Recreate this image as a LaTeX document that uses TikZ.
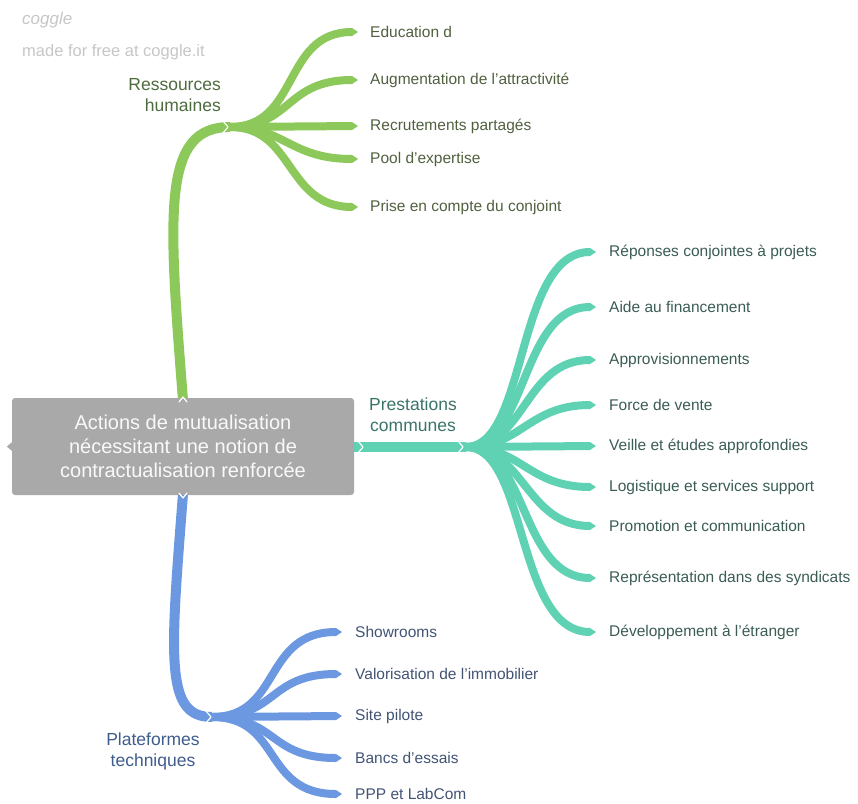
\documentclass[tikz,border=0pt]{standalone}
\usepackage{fontspec}
\setmainfont{Liberation Sans}
\usetikzlibrary{arrows.meta}
\definecolor{hrgreen}{HTML}{8CC85A}
\definecolor{svteal}{HTML}{5FD2B4}
\definecolor{ptblue}{HTML}{6B98E0}
\definecolor{rootgrey}{HTML}{A9A9A9}
\definecolor{greentext}{HTML}{50603F}
\definecolor{tealtext}{HTML}{3A5C55}
\definecolor{bluetext}{HTML}{425474}
\definecolor{greenlabel}{HTML}{4E6B3E}
\definecolor{teallabel}{HTML}{3A7468}
\definecolor{bluelabel}{HTML}{3E5C8C}
\tikzset{
  trunk/.style={line width=10pt, line cap=butt},
  twig/.style={line width=8pt, line cap=butt, -{Triangle[length=6pt,width=8pt,line width=0pt]}},
  leaf/.style={anchor=west, inner sep=0pt, font=\fontsize{15.5}{18}\selectfont},
  topic/.style={inner sep=0pt, align=center, font=\fontsize{17.5}{21}\selectfont},
  notch/.style={white, line width=1.2pt, line cap=round, line join=round},
}
\begin{document}
\begin{tikzpicture}[x=1pt,y=-1pt]
\useasboundingbox (0,0) rectangle (858,803);

% watermark
\node[anchor=west, inner sep=0pt, text=gray!45, font=\fontsize{17}{20}\itshape] (logo) at (22,20) {coggle};
\node[anchor=west, inner sep=0pt, text=gray!45, font=\fontsize{16.5}{20}\selectfont] (made) at (22,52) {made for free at coggle.it};

% junction points
\coordinate (gtop) at (183,400);
\coordinate (gj) at (230,127);
\coordinate (teast) at (352,447);
\coordinate (tj) at (466,447);
\coordinate (bbot) at (183,494);
\coordinate (bj) at (212,717);

% ---- Ressources humaines (green) ----
\node[topic, text=greenlabel, align=right, anchor=east] (rh) at (221,95) {Ressources\\humaines};
\node[leaf, text=greentext] (g1) at (370,32) {Education d};
\node[leaf, text=greentext] (g2) at (370,80) {Augmentation de l'attractivité};
\node[leaf, text=greentext] (g3) at (370,126) {Recrutements partagés};
\node[leaf, text=greentext] (g4) at (370,159) {Pool d'expertise};
\node[leaf, text=greentext] (g5) at (370,207) {Prise en compte du conjoint};

\draw[trunk, hrgreen] (gtop) .. controls (168,210) and (162,127) .. (gj);
\begin{scope}[hrgreen]
\draw[twig] (gj) .. controls (300,127) and (282,32) .. ([xshift=-12pt]g1.west);
\draw[twig] (gj) .. controls (292,127) and (285,80) .. ([xshift=-12pt]g2.west);
\draw[twig] (gj) -- ([xshift=-12pt]g3.west);
\draw[twig] (gj) .. controls (285,127) and (290,159) .. ([xshift=-12pt]g4.west);
\draw[twig] (gj) .. controls (295,127) and (285,207) .. ([xshift=-12pt]g5.west);
\end{scope}
\draw[notch] (223,121) -- (228,127) -- (223,133);

% ---- Prestations communes (teal) ----
\node[topic, text=teallabel] (pc) at (413,415) {Prestations\\communes};
\node[leaf, text=tealtext] (t1) at (609,252) {Réponses conjointes à projets};
\node[leaf, text=tealtext] (t2) at (609,307) {Aide au financement};
\node[leaf, text=tealtext] (t3) at (609,360) {Approvisionnements};
\node[leaf, text=tealtext] (t4) at (609,405) {Force de vente};
\node[leaf, text=tealtext] (t5) at (609,446) {Veille et études approfondies};
\node[leaf, text=tealtext] (t6) at (609,487) {Logistique et services support};
\node[leaf, text=tealtext] (t7) at (609,526) {Promotion et communication};
\node[leaf, text=tealtext] (t8) at (609,578) {Représentation dans des syndicats};
\node[leaf, text=tealtext] (t9) at (609,632) {Développement à l'étranger};

\draw[trunk, svteal] (teast) -- (tj);
\begin{scope}[svteal]
\draw[twig] (tj) .. controls (528,447) and (515,252) .. ([xshift=-13pt]t1.west);
\draw[twig] (tj) .. controls (528,447) and (520,307) .. ([xshift=-13pt]t2.west);
\draw[twig] (tj) .. controls (526,447) and (524,360) .. ([xshift=-13pt]t3.west);
\draw[twig] (tj) .. controls (522,447) and (528,405) .. ([xshift=-13pt]t4.west);
\draw[twig] (tj) -- ([xshift=-13pt]t5.west);
\draw[twig] (tj) .. controls (522,447) and (528,487) .. ([xshift=-13pt]t6.west);
\draw[twig] (tj) .. controls (524,447) and (526,526) .. ([xshift=-13pt]t7.west);
\draw[twig] (tj) .. controls (528,447) and (520,578) .. ([xshift=-13pt]t8.west);
\draw[twig] (tj) .. controls (528,447) and (515,632) .. ([xshift=-13pt]t9.west);
\end{scope}
\draw[notch] (358,441) -- (363,447) -- (358,453);
\draw[notch] (458,441) -- (463,447) -- (458,453);

% ---- Plateformes techniques (blue) ----
\node[topic, text=bluelabel] (pt) at (153,751) {Plateformes\\techniques};
\node[leaf, text=bluetext] (b1) at (355,632) {Showrooms};
\node[leaf, text=bluetext] (b2) at (355,674) {Valorisation de l'immobilier};
\node[leaf, text=bluetext] (b3) at (355,716) {Site pilote};
\node[leaf, text=bluetext] (b4) at (355,758) {Bancs d'essais};
\node[leaf, text=bluetext] (b5) at (355,794) {PPP et LabCom};

\draw[trunk, ptblue] (bbot) .. controls (170,660) and (165,717) .. (bj);
\begin{scope}[ptblue]
\draw[twig] (bj) .. controls (282,717) and (262,632) .. ([xshift=-13pt]b1.west);
\draw[twig] (bj) .. controls (278,717) and (268,674) .. ([xshift=-13pt]b2.west);
\draw[twig] (bj) -- ([xshift=-13pt]b3.west);
\draw[twig] (bj) .. controls (278,717) and (268,758) .. ([xshift=-13pt]b4.west);
\draw[twig] (bj) .. controls (282,717) and (262,794) .. ([xshift=-13pt]b5.west);
\end{scope}
\draw[notch] (206,711) -- (211,717) -- (206,723);

% ---- central topic ----
\node[fill=rootgrey, rounded corners=3pt, minimum width=342pt, minimum height=97pt,
      inner sep=0pt, align=center, text=white!95!gray,
      font=\fontsize{20}{24}\selectfont] (root) at (183,446.5)
  {Actions de mutualisation\\nécessitant une notion de\\contractualisation renforcée};
\fill[rootgrey] ([xshift=1pt]root.west) ++(0,-5) -- ++(-6,5) -- ++(6,5) -- cycle;
\draw[notch] (179,402) -- (183,397) -- (187,402);
\draw[notch] (179,493) -- (183,498) -- (187,493);
\end{tikzpicture}
\end{document}
